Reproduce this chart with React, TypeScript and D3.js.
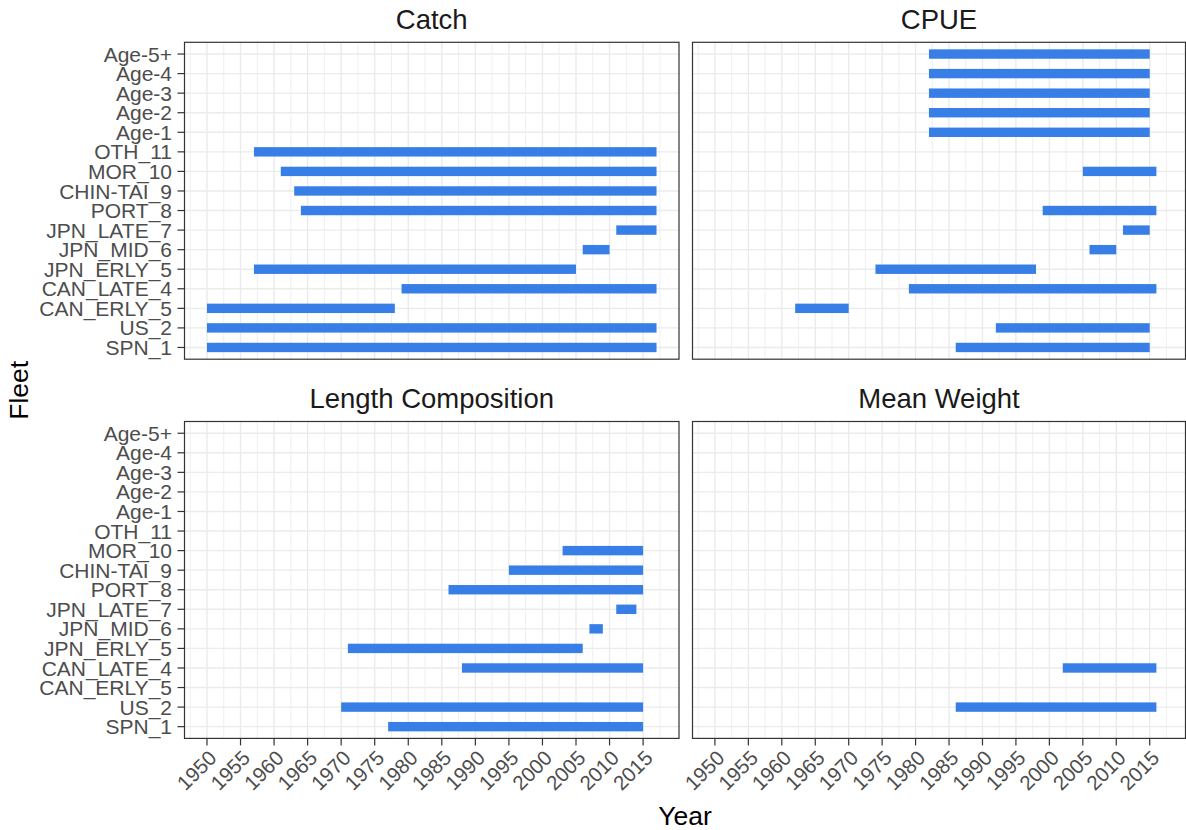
import React from "react";
import * as d3 from "d3";

// Fleets, bottom to top as in the chart
const fleets = [
  "SPN_1", "US_2", "CAN_ERLY_5", "CAN_LATE_4", "JPN_ERLY_5", "JPN_MID_6",
  "JPN_LATE_7", "PORT_8", "CHIN-TAI_9", "MOR_10", "OTH_11",
  "Age-1", "Age-2", "Age-3", "Age-4", "Age-5+",
];

const panelTitles = ["Catch", "CPUE", "Length Composition", "Mean Weight"];

const yearTicks = [1950, 1955, 1960, 1965, 1970, 1975, 1980, 1985, 1990, 1995, 2000, 2005, 2010, 2015];
const yearDomain = [1950, 2017];

type Range = { fleet: string; start: number; end: number };

const catchRanges: Range[] = [
  { fleet: "OTH_11", start: 1957, end: 2017 },
  { fleet: "MOR_10", start: 1961, end: 2017 },
  { fleet: "CHIN-TAI_9", start: 1963, end: 2017 },
  { fleet: "PORT_8", start: 1964, end: 2017 },
  { fleet: "JPN_LATE_7", start: 2011, end: 2017 },
  { fleet: "JPN_MID_6", start: 2006, end: 2010 },
  { fleet: "JPN_ERLY_5", start: 1957, end: 2005 },
  { fleet: "CAN_LATE_4", start: 1979, end: 2017 },
  { fleet: "CAN_ERLY_5", start: 1950, end: 1978 },
  { fleet: "US_2", start: 1950, end: 2017 },
  { fleet: "SPN_1", start: 1950, end: 2017 },
];

const cpueRanges: Range[] = [
  { fleet: "Age-5+", start: 1982, end: 2015 },
  { fleet: "Age-4", start: 1982, end: 2015 },
  { fleet: "Age-3", start: 1982, end: 2015 },
  { fleet: "Age-2", start: 1982, end: 2015 },
  { fleet: "Age-1", start: 1982, end: 2015 },
  { fleet: "MOR_10", start: 2005, end: 2016 },
  { fleet: "PORT_8", start: 1999, end: 2016 },
  { fleet: "JPN_LATE_7", start: 2011, end: 2015 },
  { fleet: "JPN_MID_6", start: 2006, end: 2010 },
  { fleet: "JPN_ERLY_5", start: 1974, end: 1998 },
  { fleet: "CAN_LATE_4", start: 1979, end: 2016 },
  { fleet: "CAN_ERLY_5", start: 1962, end: 1970 },
  { fleet: "US_2", start: 1992, end: 2015 },
  { fleet: "SPN_1", start: 1986, end: 2015 },
];

const lengthCompRanges: Range[] = [
  { fleet: "MOR_10", start: 2003, end: 2015 },
  { fleet: "CHIN-TAI_9", start: 1995, end: 2015 },
  { fleet: "PORT_8", start: 1986, end: 2015 },
  { fleet: "JPN_LATE_7", start: 2011, end: 2014 },
  { fleet: "JPN_MID_6", start: 2007, end: 2009 },
  { fleet: "JPN_ERLY_5", start: 1971, end: 2006 },
  { fleet: "CAN_LATE_4", start: 1988, end: 2015 },
  { fleet: "US_2", start: 1970, end: 2015 },
  { fleet: "SPN_1", start: 1977, end: 2015 },
];

const meanWeightRanges: Range[] = [
  { fleet: "CAN_LATE_4", start: 2002, end: 2016 },
  { fleet: "US_2", start: 1986, end: 2016 },
];

const panelData = [catchRanges, cpueRanges, lengthCompRanges, meanWeightRanges];

const W = 1186;
const H = 830;
const FONT = "'Liberation Sans', Arial, Helvetica, sans-serif";
const BAR = "#377EE6";
const GRID = "#EBEBEB";
const DARK = "#333333";
const TICKTXT = "#4D4D4D";

const cols = [
  { left: 184.5, right: 679 },
  { left: 692.5, right: 1185.5 },
];
const rows = [
  { top: 42.3, bottom: 359.2 },
  { top: 421.5, bottom: 738.4 },
];

export default function App() {
  const span = yearDomain[1] - yearDomain[0];
  const lo = yearDomain[0] - span * 0.05;
  const hi = yearDomain[1] + span * 0.05;
  const minorTicks = d3.range(yearTicks[0] - 2.5, yearTicks[yearTicks.length - 1] + 5, 5);
  const yOrder = [...fleets].reverse();

  return (
    <svg width={W} height={H} style={{ position: "absolute", left: 0, top: 0, background: "white" }} fontFamily={FONT}>
      <rect width={W} height={H} fill="white" />
      {panelTitles.map((title, i) => {
        const c = cols[i % 2];
        const r = rows[Math.floor(i / 2)];
        const x = d3.scaleLinear().domain([lo, hi]).range([c.left, c.right]);
        const y = d3.scalePoint<string>().domain(yOrder).range([r.top, r.bottom]).padding(0.6);
        const data = panelData[i];
        const showY = i % 2 === 0;
        const showX = Math.floor(i / 2) === 1;
        return (
          <g key={title}>
            <rect x={c.left} y={r.top} width={c.right - c.left} height={r.bottom - r.top} fill="white" />
            {minorTicks.filter((t) => t > lo && t < hi).map((t) => (
              <line key={"mn" + t} x1={x(t)} x2={x(t)} y1={r.top} y2={r.bottom} stroke={GRID} strokeWidth={0.8} />
            ))}
            {yearTicks.map((t) => (
              <line key={"mj" + t} x1={x(t)} x2={x(t)} y1={r.top} y2={r.bottom} stroke={GRID} strokeWidth={1.4} />
            ))}
            {yOrder.map((f) => (
              <line key={"h" + f} x1={c.left} x2={c.right} y1={y(f)} y2={y(f)} stroke={GRID} strokeWidth={1.4} />
            ))}
            {data.map((d) => (
              <rect
                key={d.fleet}
                x={x(d.start)}
                width={x(d.end) - x(d.start)}
                y={(y(d.fleet) as number) - 4.7}
                height={9.4}
                fill={BAR}
              />
            ))}
            <rect x={c.left} y={r.top} width={c.right - c.left} height={r.bottom - r.top} fill="none" stroke={DARK} strokeWidth={1.2} />
            <text x={(c.left + c.right) / 2} y={r.top - 13.5} textAnchor="middle" fontSize={27.5} fill="#1A1A1A">
              {title}
            </text>
            {showY &&
              yOrder.map((f) => (
                <g key={"yt" + f}>
                  <line x1={c.left - 7} x2={c.left} y1={y(f)} y2={y(f)} stroke={DARK} strokeWidth={1.2} />
                  <text x={c.left - 12.5} y={y(f)} dy="0.36em" textAnchor="end" fontSize={21} fill={TICKTXT}>
                    {f}
                  </text>
                </g>
              ))}
            {showX &&
              yearTicks.map((t) => (
                <g key={"xt" + t}>
                  <line x1={x(t)} x2={x(t)} y1={r.bottom} y2={r.bottom + 7} stroke={DARK} strokeWidth={1.2} />
                  <text
                    transform={`translate(${x(t)},${r.bottom + 10}) rotate(-45)`}
                    dy="0.75em"
                    textAnchor="end"
                    fontSize={20.5}
                    fill={TICKTXT}
                  >
                    {t}
                  </text>
                </g>
              ))}
          </g>
        );
      })}
      <text x={(cols[0].left + cols[1].right) / 2} y={825} textAnchor="middle" fontSize={26.5} fill="black">
        Year
      </text>
      <text transform={`translate(27.5,${(rows[0].top + rows[1].bottom) / 2}) rotate(-90)`} textAnchor="middle" fontSize={26.5} fill="black">
        Fleet
      </text>
    </svg>
  );
}
